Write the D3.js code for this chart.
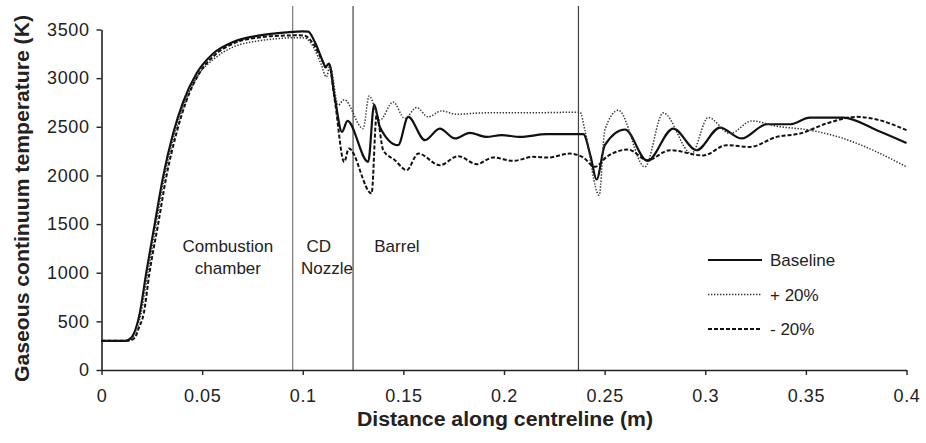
<!DOCTYPE html>
<html>
<head>
<meta charset="utf-8">
<script src="https://cdn.jsdelivr.net/npm/d3@7"></script>
<style>
    body { margin: 0; background: #fff; }
    svg { display: block; font-family: "Liberation Sans", Arial, sans-serif; }
</style>
</head>
<body>
<svg class="Chart"></svg>
<script>
// distance (m) and temperature (K)
let baseX = [0, 0.012, 0.0145, 0.016, 0.019, 0.0222, 0.0265, 0.0306, 0.0356, 0.0406, 0.0472, 0.0555, 0.0654, 0.0787, 0.0919, 0.100, 0.1027, 0.106, 0.1101, 0.1113, 0.113, 0.116, 0.1195, 0.1222, 0.1325, 0.1355, 0.1383, 0.1474, 0.1524, 0.1607, 0.1681, 0.1756, 0.183, 0.1913, 0.1988, 0.2079, 0.2212, 0.2394, 0.243, 0.246, 0.2501, 0.2601, 0.2712, 0.2841, 0.2957, 0.3073, 0.3181, 0.3305, 0.3421, 0.352, 0.3686, 0.3852, 0.4];
let baseT = [300, 300, 325, 370, 582, 993, 1506, 1985, 2431, 2756, 3047, 3253, 3372, 3440, 3471, 3481, 3478, 3372, 3166, 3115, 3150, 2790, 2447, 2560, 2139, 2729, 2499, 2311, 2601, 2362, 2482, 2380, 2437, 2396, 2414, 2396, 2424, 2424, 2200, 1958, 2311, 2472, 2150, 2482, 2259, 2492, 2380, 2526, 2526, 2595, 2595, 2465, 2334];

let plusX = [0, 0.0125, 0.0155, 0.017, 0.0197, 0.023, 0.0272, 0.0313, 0.0364, 0.0415, 0.048, 0.056, 0.0654, 0.077, 0.087, 0.097, 0.1013, 0.105, 0.109, 0.1118, 0.1135, 0.1176, 0.1206, 0.130, 0.133, 0.1383, 0.1449, 0.1507, 0.1566, 0.1623, 0.169, 0.1764, 0.19, 0.21, 0.2378, 0.2402, 0.2473, 0.2501, 0.2568, 0.270, 0.2791, 0.2932, 0.3015, 0.3123, 0.3231, 0.3355, 0.352, 0.3686, 0.3852, 0.4];
let plusT = [300, 300, 330, 400, 582, 993, 1506, 1985, 2431, 2756, 3030, 3200, 3320, 3380, 3405, 3416, 3410, 3330, 3150, 3012, 3132, 2722, 2778, 2482, 2817, 2568, 2755, 2585, 2698, 2602, 2663, 2629, 2643, 2643, 2650, 2465, 1797, 2465, 2670, 2088, 2643, 2225, 2595, 2431, 2560, 2506, 2465, 2380, 2242, 2088];

let minusX = [0, 0.013, 0.0165, 0.0185, 0.021, 0.0238, 0.0282, 0.0322, 0.0372, 0.042, 0.0485, 0.0565, 0.066, 0.079, 0.091, 0.097, 0.101, 0.105, 0.1101, 0.1113, 0.113, 0.116, 0.1206, 0.1229, 0.1342, 0.1367, 0.140, 0.1458, 0.1516, 0.1574, 0.1681, 0.1772, 0.1864, 0.1946, 0.2046, 0.2145, 0.222, 0.2327, 0.2394, 0.2452, 0.251, 0.2617, 0.2712, 0.2825, 0.299, 0.3106, 0.3222, 0.3355, 0.3471, 0.3603, 0.3752, 0.3852, 0.4];
let minusT = [300, 300, 330, 430, 582, 993, 1506, 1985, 2431, 2756, 3047, 3240, 3360, 3420, 3438, 3440, 3435, 3360, 3160, 3110, 3140, 2760, 2139, 2277, 1815, 2619, 2259, 2157, 2054, 2225, 2105, 2198, 2116, 2184, 2150, 2191, 2184, 2225, 2184, 2088, 2191, 2266, 2157, 2259, 2205, 2311, 2293, 2396, 2431, 2534, 2602, 2575, 2465];

let seriesNames = ["Baseline", "+ 20%", "- 20%"];
let xTicks = [0, 0.05, 0.1, 0.15, 0.2, 0.25, 0.3, 0.35, 0.4];
let yTicks = [0, 500, 1000, 1500, 2000, 2500, 3000, 3500];
let sections = [0.095, 0.125, 0.237];
let regionLabels = [
    {lines: ["Combustion", "chamber"], x: 0.0628},
    {lines: ["CD"], x: 0.1080},
    {lines: ["Nozzle"], x: 0.1120},
    {lines: ["Barrel"], x: 0.1468}
];

function drawChart(){
    let width = 926, height = 443;
    let svg = d3.select(".Chart")
        .attr("width", width)
        .attr("height", height);

    let x = d3.scaleLinear().domain([0, 0.4]).range([101.5, 906.5]);
    let y = d3.scaleLinear().domain([0, 3500]).range([370, 29.5]);

    // section boundaries
    svg.append("g").selectAll("line")
        .data(sections)
        .join("line")
        .attr("x1", d => x(d)).attr("x2", d => x(d))
        .attr("y1", 6).attr("y2", y(0))
        .style("stroke", (d, i) => i == 0 ? "#777" : "#444")
        .style("stroke-width", 1.2);

    // axes
    let xAxis = svg.append("g")
        .attr("transform", `translate(0,${y(0)})`)
        .call(d3.axisBottom(x).tickValues(xTicks).tickFormat(d3.format("~g")).tickSize(5).tickSizeOuter(0).tickPadding(14));
    let yAxis = svg.append("g")
        .attr("transform", `translate(${x(0)},0)`)
        .call(d3.axisLeft(y).tickValues(yTicks).tickFormat(d3.format("d")).tickSize(5).tickSizeOuter(0).tickPadding(7));
    [xAxis, yAxis].forEach(a => {
        a.select(".domain").style("stroke", "#222").style("stroke-width", 1.6);
        a.selectAll(".tick line").style("stroke", "#222").style("stroke-width", 1.4);
        a.selectAll(".tick text")
            .style("font-size", "18px")
            .style("letter-spacing", "0.6px")
            .style("fill", "#222");
    });

    // axis titles
    svg.append("text")
        .attr("x", 505).attr("y", 426)
        .attr("text-anchor", "middle")
        .attr("textLength", 296).attr("lengthAdjust", "spacingAndGlyphs")
        .style("font-size", "20px").style("font-weight", "bold").style("fill", "#222")
        .text("Distance along centreline (m)");
    svg.append("text")
        .attr("transform", "translate(29,198.5) rotate(-90)")
        .attr("text-anchor", "middle")
        .attr("textLength", 367).attr("lengthAdjust", "spacingAndGlyphs")
        .style("font-size", "20px").style("font-weight", "bold").style("fill", "#222")
        .text("Gaseous continuum temperature (K)");

    // region labels
    let lab = svg.append("g").selectAll("text")
        .data(regionLabels)
        .join("text")
        .attr("text-anchor", "middle")
        .style("font-size", "17px")
        .style("fill", "#222")
        .attr("transform", d => `translate(${x(d.x)},0)`);
    lab.each(function(d){
        let first = d.lines[0] == "Nozzle" ? 273.5 : 251.5;
        d3.select(this).selectAll("tspan")
            .data(d.lines)
            .join("tspan")
            .attr("x", 0)
            .attr("y", (t, i) => first + i * 22)
            .text(t => t);
    });

    // curves
    let series = [
        {name: seriesNames[0], xs: baseX, ts: baseT, dash: null, w: 2.2, color: "#111"},
        {name: seriesNames[1], xs: plusX, ts: plusT, dash: "1.4,1.6", w: 1.5, color: "#333"},
        {name: seriesNames[2], xs: minusX, ts: minusT, dash: "4,2", w: 2, color: "#111"}
    ];
    let line = d3.line()
        .x(d => x(d[0]))
        .y(d => y(d[1]))
        .curve(d3.curveMonotoneX);

    svg.append("g").selectAll("path")
        .data(series)
        .join("path")
        .attr("d", s => line(d3.zip(s.xs, s.ts)))
        .style("fill", "none")
        .style("stroke", s => s.color)
        .style("stroke-width", s => s.w)
        .style("stroke-dasharray", s => s.dash)
        .style("stroke-linejoin", "round");

    // legend
    let legend = svg.append("g").selectAll("g")
        .data(series)
        .join("g")
        .attr("transform", (d, i) => `translate(708,${260 + i * 34.5})`);
    legend.append("line")
        .attr("x1", 0).attr("x2", 54)
        .style("stroke", s => s.color)
        .style("stroke-width", s => s.w)
        .style("stroke-dasharray", s => s.dash);
    legend.append("text")
        .attr("x", 62).attr("y", 6)
        .style("font-size", "17px")
        .style("fill", "#222")
        .text(s => s.name);
}

drawChart();
</script>
</body>
</html>
